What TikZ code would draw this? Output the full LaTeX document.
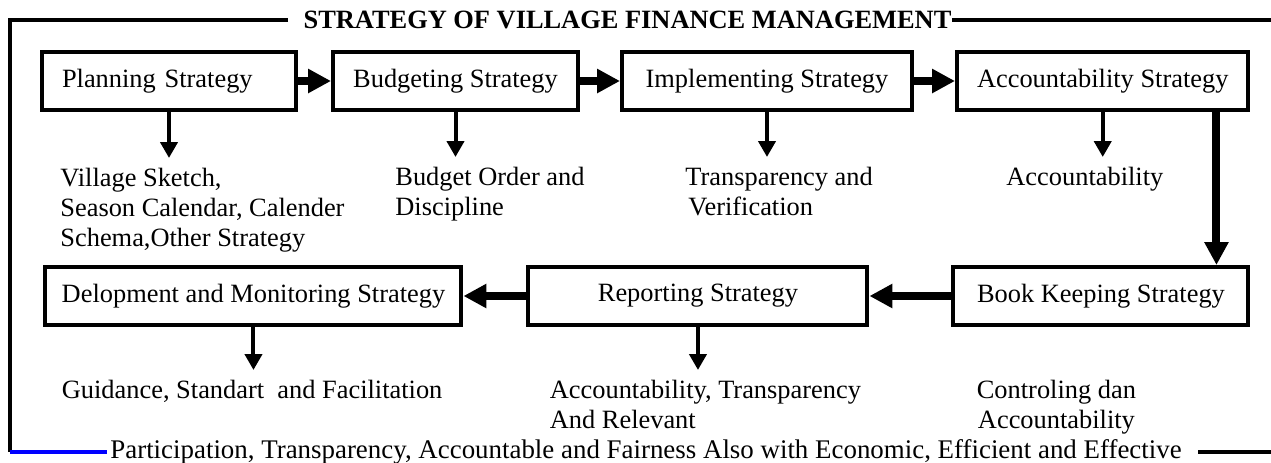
\documentclass[tikz,border=0pt]{standalone}
\usepackage{fontspec}
\setmainfont{Liberation Serif}
\usepackage{tikz}
\usetikzlibrary{positioning,arrows,arrows.meta}

\begin{document}
\begin{tikzpicture}[->,>={Triangle[length=8pt,width=8.5pt]},node distance=1cm,
	font=\fontsize{13.2}{15}\selectfont,
	box/.style={draw,line width=2pt,minimum height=29pt,inner xsep=10pt,inner ysep=0pt},
	note/.style={inner sep=0pt,align=left},
	flow/.style={->,line width=4pt,>={Triangle[length=11.5pt,width=11.5pt]}},
	down/.style={->,line width=2pt,shorten >=5pt},
	frame/.style={-,line width=2pt}]
			\useasboundingbox (0,0) rectangle (635.5pt,-231pt);

			\node[box,text width=107pt,align=left] (plan) at (84.5pt,-40.5pt) {Planning Strategy};
			\node[box,minimum width=122.5pt] (budget) [right=16.5pt of plan] {Budgeting Strategy};
			\node[box,minimum width=145pt] (impl) [right=20pt of budget] {Implementing Strategy};
			\node[box,minimum width=144pt] (acc) [right=20.5pt of impl] {Accountability Strategy};
			\node[box,minimum width=147.5pt] (book) [below=76.5pt of acc.south east,anchor=north east] {Book Keeping Strategy};
			\node[box,minimum width=169.5pt] (report) [left=41pt of book] {Reporting Strategy};
			\node[box,minimum width=208pt,inner xsep=8pt] (dev) [left=31.5pt of report] {Delopment and Monitoring Strategy};

			\node[note] (villnote) [below right=28pt and 10pt of plan.south west] {Village Sketch,\\Season Calendar, Calender\\Schema,Other Strategy};
			\node[note] (budgnote) [below right=27.5pt and 32pt of budget.south west] {Budget Order and\\Discipline};
			\node[note] (implnote) [below right=27.5pt and 32.5pt of impl.south west] {Transparency and\\\hspace{1.5pt}Verification};
			\node[note] (accnote) [below right=27.5pt and 25.5pt of acc.south west] {Accountability};
			\node[note] (devnote) [below right=26.5pt and 9pt of dev.south west] {Guidance, Standart~ and Facilitation};
			\node[note] (repnote) [below right=26.5pt and 11.5pt of report.south west] {Accountability, Transparency\\And Relevant};
			\node[note,align=center] (booknote) [below right=26.5pt and 12.5pt of book.south west] {Controling dan\\Accountability};

			\node[inner sep=0pt,font=\fontsize{13.2}{15}\selectfont\bfseries] (title) at (313.75pt,-10pt) {STRATEGY OF VILLAGE FINANCE MANAGEMENT};
			\node[inner xsep=1.5pt,anchor=west,font=\fontsize{13.45}{15}\selectfont] (principle) at (53.5pt,-226pt) {Participation, Transparency, Accountable and Fairness Also with Economic, Efficient and Effective};
			\coordinate (tl) at (5pt,-10pt);
			\coordinate (bl) at (5pt,-226pt);
			\coordinate (tr) at (635.5pt,-10pt);
			\coordinate (br) at (635.5pt,-226pt);

			\draw[flow] (plan) -- (budget);
			\draw[flow] (budget) -- (impl);
			\draw[flow] (impl) -- (acc);
			\draw[flow] ([xshift=-17pt]acc.south east) -- ([xshift=-17pt]book.north east);
			\draw[flow] (book) -- (report);
			\draw[flow] (report) -- (dev);

			\draw[down] (plan.south) -- (plan.south |- villnote.north);
			\draw[down] (budget.south) -- (budget.south |- budgnote.north);
			\draw[down] (impl.south) -- (impl.south |- implnote.north);
			\draw[down] (acc.south) -- (acc.south |- accnote.north);
			\draw[down] (dev.south) -- (dev.south |- devnote.north);
			\draw[down] (report.south) -- (report.south |- repnote.north);

			\draw[frame] ([xshift=-7.5pt]title.west) -- (title.west -| tl) -- (bl);
			\draw[frame,blue] (bl) -- (principle.west);
			\draw[frame] (title.east) -- (title.east -| tr);
			\draw[frame] ([xshift=6.5pt]principle.east) -- (principle.east -| br);
\end{tikzpicture}
\end{document}
